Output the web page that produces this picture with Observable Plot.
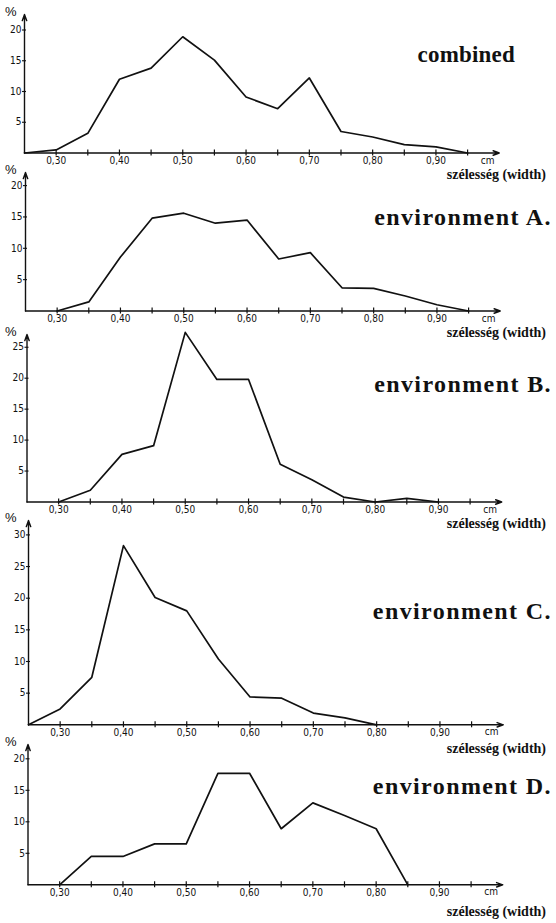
<!DOCTYPE html>
<html>
<head>
<meta charset="utf-8">
<script src="https://cdn.jsdelivr.net/npm/d3@7"></script>
<script src="https://cdn.jsdelivr.net/npm/@observablehq/plot@0.6"></script>
<style>
  body { margin: 0; background: #fff; }
  #chart { position: relative; width: 556px; height: 923px; overflow: hidden; background: #fff; }
  #chart svg { position: absolute; left: 0; overflow: visible; }
  .t { position: absolute; white-space: nowrap; color: #111; line-height: 1; }
  .title { font-family: "Liberation Serif", "Times New Roman", serif; font-weight: bold; }
  .wlab { font-family: "Liberation Serif", "Times New Roman", serif; font-weight: bold; font-size: 14px; line-height: 11px; }
  .pct { font-family: "Liberation Sans", Arial, sans-serif; font-size: 13px; }
  .cm { font-family: "Liberation Sans Narrow", "DejaVu Sans Condensed", "Liberation Sans", sans-serif; font-size: 10px; line-height: 8px; }
</style>
</head>
<body>
<div id="chart"></div>
<script>
// ---- data ----
const widths = [0.25, 0.30, 0.35, 0.40, 0.45, 0.50, 0.55, 0.60, 0.65, 0.70, 0.75, 0.80, 0.85, 0.90, 0.95];
const combined = [0, 0.5, 3.2, 12.0, 13.8, 18.9, 15.1, 9.1, 7.2, 12.2, 3.5, 2.6, 1.35, 1.0, 0];
const envA = [null, 0, 1.45, 8.6, 14.8, 15.6, 14.0, 14.5, 8.3, 9.3, 3.7, 3.6, 2.4, 1.0, 0];
const envB = [null, 0, 1.9, 7.7, 9.1, 27.4, 19.8, 19.8, 6.1, 3.6, 0.8, 0, 0.6, 0, null];
const envC = [0, 2.5, 7.5, 28.3, 20.1, 18.0, 10.4, 4.4, 4.2, 1.85, 1.1, 0, null, null, null];
const envD = [null, 0, 4.5, 4.5, 6.5, 6.5, 17.7, 17.7, 8.9, 13.0, 11.0, 8.9, 0, null, null];

const titles = ["combined", "environment A.", "environment B.", "environment C.", "environment D."];
const xTickMarks = [0.30, 0.35, 0.40, 0.45, 0.50, 0.55, 0.60, 0.65, 0.70, 0.75, 0.80, 0.85, 0.90, 0.95];
const xTickLabels = [0.30, 0.40, 0.50, 0.60, 0.70, 0.80, 0.90];
const yTicks = [
  [5, 10, 15, 20],
  [5, 10, 15, 20],
  [5, 10, 15, 20, 25],
  [5, 10, 15, 20, 25, 30],
  [5, 10, 15, 20]
];
const xUnit = "cm";
const xLabel = "szélesség (width)";
const yUnit = "%";
const series = [combined, envA, envB, envC, envD];

// ---- layout (pixels) ----
const layout = [
  {x0: 24,   y0: 152.5, tip: 14,  titleRight: 515, titleBase: 62,  titleSize: 23, spacing: 0.2, wBase: 179},
  {x0: 25,   y0: 310.5, tip: 172, titleRight: 552, titleBase: 225, titleSize: 24, spacing: 1.4, wBase: 337},
  {x0: 26.5, y0: 501.5, tip: 334, titleRight: 552, titleBase: 392, titleSize: 24, spacing: 1.4, wBase: 528},
  {x0: 28,   y0: 724.3, tip: 520, titleRight: 552, titleBase: 619, titleSize: 24, spacing: 1.4, wBase: 753},
  {x0: 27.5, y0: 884.3, tip: 744, titleRight: 552, titleBase: 794, titleSize: 24, spacing: 1.4, wBase: 916}
];
const pxPerUnitY = [6.15, 6.27, 6.19, 6.33, 6.3];
const pxPerCm = 633;
const xDomain = [0.25, 1.0];
const mTop = 6, mBottom = 16;

const chart = document.getElementById("chart");
const fmt = d => d.toFixed(2).replace(".", ",");
const tickFont = '"Liberation Sans Narrow", "DejaVu Sans Condensed", "Liberation Sans", sans-serif';

function addText(cls, text, opts) {
  const el = document.createElement("div");
  el.className = "t " + cls;
  el.textContent = text;
  Object.assign(el.style, opts);
  chart.appendChild(el);
  return el;
}

series.forEach((vals, i) => {
  const L = layout[i];
  const plotH = L.y0 - L.tip;
  const yTop = plotH / pxPerUnitY[i];
  const data = widths.map((w, j) => ({w, v: vals[j]})).filter(d => d.v != null);
  const axesLines = [
    {x1: xDomain[0], y1: 0, x2: xDomain[0], y2: yTop},
    {x1: xDomain[0], y1: 0, x2: xDomain[1], y2: 0}
  ];
  const frameW = (xDomain[1] - xDomain[0]) * pxPerCm;
  const svg = Plot.plot({
    width: 556,
    height: mTop + plotH + mBottom,
    marginLeft: L.x0,
    marginRight: 556 - L.x0 - frameW,
    marginTop: mTop,
    marginBottom: mBottom,
    style: {fontFamily: tickFont, fontSize: "10px", color: "#111", background: "transparent"},
    x: {domain: xDomain, label: null},
    y: {domain: [0, yTop], label: null},
    marks: [
      Plot.arrow(axesLines, {x1: "x1", y1: "y1", x2: "x2", y2: "y2", stroke: "#111", strokeWidth: 1.4, headLength: 7, headAngle: 40}),
      Plot.axisX(xTickMarks, {tickSize: 6, dy: -3, fill: "none", stroke: "#111", strokeWidth: 1.2, label: null}),
      Plot.axisX(xTickLabels, {tickSize: 0, tickPadding: 4, tickFormat: fmt, fill: "#111", label: null}),
      Plot.axisY(yTicks[i], {tickSize: 4, dx: 2, fill: "none", stroke: "#111", strokeWidth: 1.1, label: null}),
      Plot.axisY(yTicks[i], {tickSize: 0, tickPadding: 3, fill: "#111", label: null}),
      Plot.line(data, {x: "w", y: "v", stroke: "#111", strokeWidth: 1.7})
    ]
  });
  svg.style.top = (L.tip - mTop) + "px";
  chart.appendChild(svg);

  // title
  addText("title", titles[i], {
    right: (556 - L.titleRight) + "px",
    top: (L.titleBase - 0.8375 * L.titleSize) + "px",
    fontSize: L.titleSize + "px",
    letterSpacing: L.spacing + "px"
  });
  // percent sign
  addText("pct", yUnit, {left: "5px", top: (L.tip - 9) + "px"});
  // unit cm
  addText("cm", xUnit, {left: (L.x0 + frameW - 18) + "px", top: (L.y0 + 4) + "px"});
  // axis label
  addText("wlab", xLabel, {right: (556 - 546) + "px", top: (L.wBase - 10.2) + "px"});
});
</script>
</body>
</html>
